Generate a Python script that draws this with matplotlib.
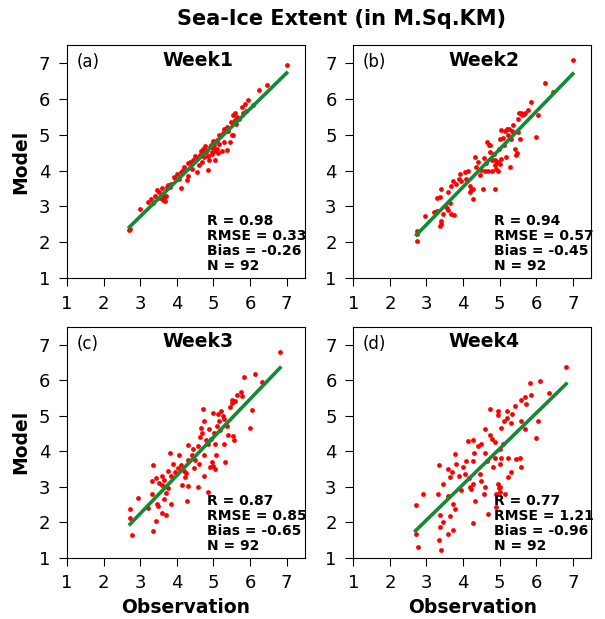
import matplotlib
matplotlib.use("Agg")
import matplotlib.pyplot as plt
import numpy as np

# observation / model pairs, one panel per week
week1_obs = [2.70, 2.72, 2.99, 3.22, 3.30, 3.36, 3.45, 3.40, 3.54, 3.58, 3.62, 3.66,
             3.72, 3.63, 3.70, 3.81, 3.85, 3.95, 3.92, 4.05, 4.10, 4.18, 4.12, 4.27,
             4.30, 4.36, 4.30, 4.45, 4.54, 4.54, 4.60, 4.63, 4.68, 4.72, 4.75, 4.80,
             4.82, 4.85, 4.88, 4.86, 4.90, 4.95, 4.97, 5.00, 5.02, 5.05, 5.09, 5.10,
             5.12, 5.15, 5.18, 5.22, 5.25, 5.30, 5.36, 5.36, 5.40, 5.45, 5.48, 5.50,
             5.54, 5.54, 5.58, 5.62, 5.70, 5.77, 5.82, 5.90, 5.95, 6.09, 6.25, 6.46,
             7.00, 4.92, 4.98, 5.05, 4.78, 4.70, 4.50, 4.40, 4.20, 4.00, 3.75, 3.60,
             3.50, 3.68, 5.15, 5.60, 5.85, 5.65, 4.65, 5.28]
week1_mod = [2.33, 2.38, 2.92, 3.13, 3.20, 3.08, 3.46, 3.30, 3.22, 3.26, 3.18, 3.22,
             3.55, 3.31, 3.28, 3.55, 3.62, 3.78, 3.83, 3.75, 3.50, 4.01, 3.97, 3.73,
             3.85, 4.25, 4.20, 4.30, 4.34, 3.97, 4.15, 4.43, 4.48, 4.60, 4.38, 4.52,
             4.57, 4.40, 4.30, 4.01, 4.65, 4.53, 4.45, 4.62, 4.72, 4.30, 4.85, 4.60,
             4.50, 4.75, 4.95, 4.55, 5.05, 4.80, 4.57, 5.22, 5.10, 4.80, 5.35, 5.00,
             4.99, 5.55, 5.40, 5.30, 5.45, 5.78, 5.60, 5.65, 5.97, 5.83, 6.26, 6.38,
             6.94, 4.70, 4.82, 4.55, 4.68, 4.25, 4.40, 4.05, 4.10, 3.90, 3.60, 3.50,
             3.40, 3.15, 5.00, 5.60, 5.85, 5.50, 4.55, 5.15]

week2_obs = [2.73, 2.73, 2.75, 2.95, 3.30, 3.36, 3.40, 3.41, 3.36, 3.30, 3.41, 3.45,
             3.50, 3.55, 3.58, 3.64, 3.68, 3.75, 3.68, 3.72, 3.80, 3.91, 3.88, 4.09,
             4.14, 4.05, 4.18, 4.22, 4.27, 4.27, 4.20, 4.32, 4.40, 4.45, 4.50, 4.55,
             4.60, 4.68, 4.62, 4.70, 4.73, 4.75, 4.78, 4.80, 4.84, 4.86, 4.86, 4.88,
             4.90, 4.92, 4.95, 4.96, 5.00, 5.02, 5.03, 5.05, 5.10, 5.15, 5.18, 5.22,
             5.25, 5.29, 5.30, 5.36, 5.43, 5.45, 5.48, 5.50, 5.50, 5.52, 5.55, 5.58,
             5.62, 5.66, 5.70, 5.77, 5.87, 6.00, 6.05, 6.23, 6.45, 7.00, 4.65, 4.58,
             4.35, 3.95, 3.60, 3.20, 5.12, 4.98, 5.35, 5.20]
week2_mod = [2.03, 2.22, 2.31, 2.73, 2.87, 2.45, 2.50, 2.58, 3.25, 3.22, 3.48, 2.78,
             3.01, 2.95, 2.90, 3.10, 2.78, 2.76, 3.58, 3.70, 3.62, 3.90, 3.75, 3.76,
             4.00, 3.95, 3.58, 3.45, 3.48, 3.20, 3.40, 4.37, 4.25, 3.88, 4.02, 3.48,
             4.00, 4.00, 4.22, 4.72, 4.70, 4.51, 4.28, 4.00, 4.45, 4.14, 3.48, 4.30,
             4.05, 4.20, 4.00, 4.25, 4.89, 4.18, 4.33, 5.12, 4.90, 5.10, 4.37, 5.00,
             5.15, 4.09, 4.88, 5.26, 4.60, 4.42, 4.48, 5.08, 5.45, 5.62, 4.89, 5.60,
             5.55, 5.58, 5.62, 5.69, 5.92, 4.94, 5.54, 6.44, 6.20, 7.09, 4.80, 4.35,
             4.10, 3.70, 3.40, 2.85, 4.70, 4.60, 5.10, 5.15]

week3_obs = [2.77, 2.72, 2.72, 2.95, 3.31, 3.35, 3.44, 3.49, 3.45, 3.58, 3.70, 3.85,
             3.71, 3.75, 3.58, 3.31, 3.35, 3.44, 3.60, 3.65, 3.76, 3.80, 3.85, 3.95,
             4.03, 4.07, 4.10, 4.20, 4.25, 4.22, 4.30, 4.30, 4.30, 4.28, 4.40, 4.48,
             4.50, 4.57, 4.57, 4.60, 4.65, 4.70, 4.72, 4.75, 4.75, 4.75, 4.80, 4.84,
             4.88, 4.90, 4.95, 4.98, 5.00, 5.02, 5.04, 5.06, 5.05, 5.10, 5.15, 5.18,
             5.20, 5.25, 5.29, 5.32, 5.36, 5.40, 5.51, 5.54, 5.55, 5.50, 5.65, 5.74,
             5.79, 5.83, 6.00, 6.05, 6.14, 6.32, 6.82, 4.85, 3.50, 3.90, 4.45, 4.62,
             5.12, 5.45, 3.65, 3.20, 4.15, 4.93, 5.30, 5.60]
week3_mod = [1.65, 2.12, 2.36, 2.68, 2.78, 1.75, 2.03, 2.45, 2.52, 2.26, 2.20, 2.50,
             2.83, 2.95, 3.06, 3.17, 3.62, 3.25, 3.30, 3.20, 3.44, 3.95, 3.30, 3.40,
             3.53, 3.90, 3.60, 3.45, 3.39, 3.28, 3.76, 4.17, 3.01, 2.59, 3.90, 3.53,
             3.75, 4.14, 2.99, 3.65, 4.65, 4.50, 5.20, 4.84, 3.90, 3.29, 4.30, 4.19,
             4.62, 3.55, 3.70, 3.58, 5.08, 4.51, 4.19, 3.90, 3.50, 4.70, 4.84, 4.60,
             5.14, 5.00, 4.19, 3.70, 4.72, 4.45, 5.45, 4.42, 4.30, 5.35, 5.57, 5.67,
             5.54, 6.08, 4.65, 5.15, 6.18, 5.94, 6.79, 2.86, 3.10, 3.65, 4.05, 4.40,
             5.05, 5.25, 2.65, 2.40, 3.05, 4.35, 4.90, 5.40]

week4_obs = [2.70, 2.77, 2.70, 2.91, 3.32, 3.35, 3.36, 3.36, 3.35, 3.41, 3.45, 3.45,
             3.59, 3.59, 3.59, 3.64, 3.64, 3.70, 3.73, 3.73, 3.77, 3.77, 3.82, 3.90,
             4.00, 4.05, 4.09, 4.14, 4.18, 4.23, 4.27, 4.27, 4.27, 4.32, 4.27, 4.30,
             4.40, 4.50, 4.50, 4.57, 4.59, 4.59, 4.65, 4.68, 4.73, 4.75, 4.80, 4.82,
             4.86, 4.86, 4.90, 4.90, 4.95, 4.95, 4.95, 4.98, 5.00, 5.00, 5.00, 5.02,
             5.05, 5.05, 5.08, 5.12, 5.15, 5.21, 5.21, 5.23, 5.23, 5.30, 5.32, 5.41,
             5.45, 5.55, 5.59, 5.59, 5.59, 5.68, 5.68, 5.73, 5.82, 5.86, 6.00, 6.05,
             6.11, 6.34, 6.82, 4.45, 3.95, 4.60, 5.35, 4.15]
week4_mod = [1.67, 1.30, 2.49, 2.78, 2.79, 3.60, 2.20, 1.86, 1.49, 1.21, 3.07, 2.00,
             2.75, 3.50, 1.66, 3.26, 2.17, 3.40, 2.51, 1.77, 2.37, 3.92, 3.64, 3.30,
             3.54, 3.36, 3.73, 4.29, 3.00, 2.93, 4.31, 3.73, 3.07, 2.61, 1.99, 3.94,
             4.15, 4.20, 3.17, 2.79, 4.62, 3.96, 3.72, 2.23, 5.18, 4.46, 4.35, 3.54,
             4.25, 3.82, 2.79, 2.42, 5.13, 5.03, 3.07, 2.95, 4.06, 3.64, 3.00, 2.85,
             4.66, 3.82, 4.20, 4.85, 2.80, 5.13, 4.94, 3.82, 3.26, 4.80, 3.40, 5.27,
             3.78, 3.82, 5.44, 4.85, 3.56, 5.53, 4.62, 5.32, 5.91, 5.58, 4.36, 4.85,
             5.97, 5.63, 6.37, 3.35, 2.90, 3.00, 5.05, 3.25]

panel_tags = ["(a)", "(b)", "(c)", "(d)"]
week_names = ["Week1", "Week2", "Week3", "Week4"]
stat_r = ["0.98", "0.94", "0.87", "0.77"]
stat_rmse = ["0.33", "0.57", "0.85", "1.21"]
stat_bias = ["-0.26", "-0.45", "-0.65", "-0.96"]
stat_n = ["92", "92", "92", "92"]
ticks = [1, 2, 3, 4, 5, 6, 7]

obs_all = [week1_obs, week2_obs, week3_obs, week4_obs]
mod_all = [week1_mod, week2_mod, week3_mod, week4_mod]

fig = plt.figure(figsize=(6.05, 6.19), dpi=100)
boxes = [
    [0.111, 0.551, 0.393, 0.376],
    [0.584, 0.551, 0.393, 0.376],
    [0.111, 0.099, 0.393, 0.373],
    [0.584, 0.099, 0.393, 0.373],
]

for i in range(4):
    ax = fig.add_axes(boxes[i])
    x = np.array(obs_all[i])
    y = np.array(mod_all[i])
    ax.scatter(x, y, s=12, color="red", zorder=2, linewidths=0)
    slope, icpt = np.polyfit(x, y, 1)
    xl = np.array([x.min(), x.max()])
    ax.plot(xl, slope * xl + icpt, color="#138a36", lw=2.6, zorder=3)

    ax.set_xlim(1, 7.5)
    ax.set_ylim(1, 7.5)
    ax.set_xticks(ticks)
    ax.set_yticks(ticks)
    ax.tick_params(labelsize=13, length=6, pad=6)
    ax.text(0.55, 0.912, week_names[i], transform=ax.transAxes, fontsize=13.5,
            fontweight="bold", ha="center", va="baseline")
    ax.text(0.04, 0.965, panel_tags[i], transform=ax.transAxes,
            fontsize=12, va="top", ha="left")
    stats = ("R = %s\nRMSE = %s\nBias = %s\nN = %s"
             % (stat_r[i], stat_rmse[i], stat_bias[i], stat_n[i]))
    ax.text(0.59, 0.02, stats, transform=ax.transAxes, fontsize=10,
            fontweight="bold", va="bottom", ha="left", linespacing=1.1, zorder=4)
    if i % 2 == 0:
        ax.set_ylabel("Model", fontsize=13.5, fontweight="bold", labelpad=6)
    if i >= 2:
        ax.set_xlabel("Observation", fontsize=13.5, fontweight="bold", labelpad=4)

fig.text(0.565, 0.96, "Sea-Ice Extent (in M.Sq.KM)", fontsize=15,
         fontweight="bold", ha="center", va="baseline")

fig.savefig("out.png", dpi=100)
